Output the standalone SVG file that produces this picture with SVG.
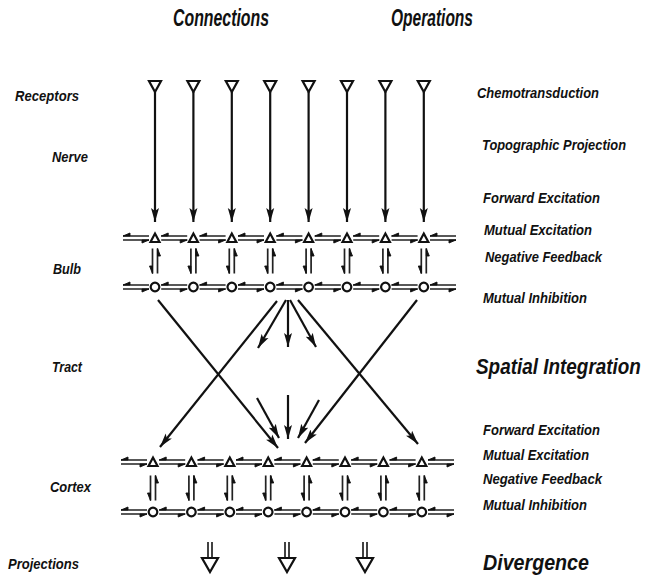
<svg xmlns="http://www.w3.org/2000/svg" width="650" height="578" viewBox="0 0 650 578">
<style>
text{font-family:"Liberation Sans",Arial,sans-serif;font-weight:bold;font-style:italic;fill:#111}
.h{font-size:24px}
.l{font-size:15px}
.b{font-size:22px}
.ln{stroke:#111;stroke-width:2.2;fill:none}
.nd{stroke:#111;stroke-width:2.2;fill:#fff}
.hl{stroke:#222;stroke-width:1.7;fill:none}
.hf{fill:#111;stroke:#111;stroke-width:0.9}
</style>
<defs>
<marker id="ah" markerUnits="userSpaceOnUse" markerWidth="15" markerHeight="9" refX="14" refY="4.5" orient="auto">
<path d="M0,0.5 L14,4.5 L0,8.5 L3,4.5 Z" fill="#111"/>
</marker>
<g id="hp">
<path class="hl" d="M-13,-2 H13 M-13,2 H13"/>
<path class="hf" d="M-13,-2 L-6,-5 L-6,-2 Z M13,2 L6,5 L6,2 Z"/>
</g>
<g id="vp">
<path class="hl" d="M-2.5,-12.5 V12.5 M2.5,-12.5 V12.5"/>
<path class="hf" d="M-2.5,12.5 L-5.5,5 L-2.5,5 Z M2.5,-12.5 L5.5,-5 L2.5,-5 Z"/>
</g>
<path id="tri" class="nd" d="M-4.5,4 L0,-4.5 L4.5,4 Z"/>
<circle id="cir" class="nd" r="4.3"/>
<path id="rec" class="nd" d="M-6,-5 L6,-5 L0,6 Z"/>
<g id="proj">
<path class="hl" d="M-2,-15 V2 M2,-15 V2"/>
<path class="nd" d="M-8,1 L8,1 L0,15 Z"/>
</g>
</defs>

<g id="labels">
<text class="h" x="173" y="26" textLength="96" lengthAdjust="spacingAndGlyphs">Connections</text>
<text class="h" x="391" y="26" textLength="82" lengthAdjust="spacingAndGlyphs">Operations</text>
<text class="l" x="15" y="101" textLength="64" lengthAdjust="spacingAndGlyphs">Receptors</text>
<text class="l" x="52" y="162" textLength="36" lengthAdjust="spacingAndGlyphs">Nerve</text>
<text class="l" x="53" y="274" textLength="28" lengthAdjust="spacingAndGlyphs">Bulb</text>
<text class="l" x="52" y="372" textLength="30" lengthAdjust="spacingAndGlyphs">Tract</text>
<text class="l" x="50" y="492" textLength="41" lengthAdjust="spacingAndGlyphs">Cortex</text>
<text class="l" x="8" y="569" textLength="71" lengthAdjust="spacingAndGlyphs">Projections</text>
<text class="l" x="477" y="98" textLength="122" lengthAdjust="spacingAndGlyphs">Chemotransduction</text>
<text class="l" x="482" y="150" textLength="144" lengthAdjust="spacingAndGlyphs">Topographic Projection</text>
<text class="l" x="483" y="203" textLength="117" lengthAdjust="spacingAndGlyphs">Forward Excitation</text>
<text class="l" x="484" y="235" textLength="108" lengthAdjust="spacingAndGlyphs">Mutual Excitation</text>
<text class="l" x="485" y="262" textLength="117" lengthAdjust="spacingAndGlyphs">Negative Feedback</text>
<text class="l" x="483" y="303" textLength="104" lengthAdjust="spacingAndGlyphs">Mutual Inhibition</text>
<text class="b" transform="translate(476,374) scale(0.86,1)">Spatial Integration</text>
<text class="l" x="483" y="435" textLength="117" lengthAdjust="spacingAndGlyphs">Forward Excitation</text>
<text class="l" x="483" y="460" textLength="106" lengthAdjust="spacingAndGlyphs">Mutual Excitation</text>
<text class="l" x="483" y="484" textLength="119" lengthAdjust="spacingAndGlyphs">Negative Feedback</text>
<text class="l" x="483" y="510" textLength="104" lengthAdjust="spacingAndGlyphs">Mutual Inhibition</text>
<text class="b" x="483" y="570" font-size="23" textLength="106" lengthAdjust="spacingAndGlyphs">Divergence</text>
</g>

<g id="connectors">
<g class="ln" marker-end="url(#ah)">
<path d="M155,92 V222"/><path d="M193.4,92 V222"/><path d="M231.8,92 V222"/><path d="M270.2,92 V222"/>
<path d="M308.6,92 V222"/><path d="M347,92 V222"/><path d="M385.4,92 V222"/><path d="M423.8,92 V222"/>
</g>
<use href="#hp" x="136" y="238"/><use href="#hp" x="174.2" y="238"/><use href="#hp" x="212.6" y="238"/><use href="#hp" x="251" y="238"/>
<use href="#hp" x="289.4" y="238"/><use href="#hp" x="327.8" y="238"/><use href="#hp" x="366.2" y="238"/><use href="#hp" x="404.6" y="238"/><use href="#hp" x="443" y="238"/>
<use href="#hp" x="136" y="287"/><use href="#hp" x="174.2" y="287"/><use href="#hp" x="212.6" y="287"/><use href="#hp" x="251" y="287"/>
<use href="#hp" x="289.4" y="287"/><use href="#hp" x="327.8" y="287"/><use href="#hp" x="366.2" y="287"/><use href="#hp" x="404.6" y="287"/><use href="#hp" x="443" y="287"/>
<use href="#vp" x="155" y="261"/><use href="#vp" x="193.4" y="261"/><use href="#vp" x="231.8" y="261"/><use href="#vp" x="270.2" y="261"/>
<use href="#vp" x="308.6" y="261"/><use href="#vp" x="347" y="261"/><use href="#vp" x="385.4" y="261"/><use href="#vp" x="423.8" y="261"/>
<g class="ln" marker-end="url(#ah)">
<path d="M158,300 L278,448"/>
<path d="M277,301 L160,447"/>
<path d="M298,300 L418,444"/>
<path d="M417,300 L305,443"/>
<path d="M286,300 L258,348"/>
<path d="M288,300 L288,347"/>
<path d="M290,300 L316,347"/>
<path d="M257,398 L279,438"/>
<path d="M288,395 L288,439"/>
<path d="M319,400 L298,438"/>
</g>
<use href="#hp" x="134" y="462"/><use href="#hp" x="172.2" y="462"/><use href="#hp" x="210.6" y="462"/><use href="#hp" x="249" y="462"/>
<use href="#hp" x="287.4" y="462"/><use href="#hp" x="325.8" y="462"/><use href="#hp" x="364.2" y="462"/><use href="#hp" x="402.6" y="462"/><use href="#hp" x="441" y="462"/>
<use href="#hp" x="134" y="512"/><use href="#hp" x="172.2" y="512"/><use href="#hp" x="210.6" y="512"/><use href="#hp" x="249" y="512"/>
<use href="#hp" x="287.4" y="512"/><use href="#hp" x="325.8" y="512"/><use href="#hp" x="364.2" y="512"/><use href="#hp" x="402.6" y="512"/><use href="#hp" x="441" y="512"/>
<use href="#vp" x="153" y="488"/><use href="#vp" x="191.4" y="488"/><use href="#vp" x="229.8" y="488"/><use href="#vp" x="268.2" y="488"/>
<use href="#vp" x="306.6" y="488"/><use href="#vp" x="345" y="488"/><use href="#vp" x="383.4" y="488"/><use href="#vp" x="421.8" y="488"/>
<use href="#proj" x="210" y="557"/><use href="#proj" x="287" y="557"/><use href="#proj" x="365" y="557"/>
</g>

<g id="receptors">
<use href="#rec" x="155" y="86"/><use href="#rec" x="193.4" y="86"/><use href="#rec" x="231.8" y="86"/><use href="#rec" x="270.2" y="86"/>
<use href="#rec" x="308.6" y="86"/><use href="#rec" x="347" y="86"/><use href="#rec" x="385.4" y="86"/><use href="#rec" x="423.8" y="86"/>
</g>
<g id="bulb-mitral">
<use href="#tri" x="155" y="238"/><use href="#tri" x="193.4" y="238"/><use href="#tri" x="231.8" y="238"/><use href="#tri" x="270.2" y="238"/>
<use href="#tri" x="308.6" y="238"/><use href="#tri" x="347" y="238"/><use href="#tri" x="385.4" y="238"/><use href="#tri" x="423.8" y="238"/>
</g>
<g id="bulb-granule">
<use href="#cir" x="155" y="287"/><use href="#cir" x="193.4" y="287"/><use href="#cir" x="231.8" y="287"/><use href="#cir" x="270.2" y="287"/>
<use href="#cir" x="308.6" y="287"/><use href="#cir" x="347" y="287"/><use href="#cir" x="385.4" y="287"/><use href="#cir" x="423.8" y="287"/>
</g>
<g id="cortex-pyramidal">
<use href="#tri" x="153" y="462"/><use href="#tri" x="191.4" y="462"/><use href="#tri" x="229.8" y="462"/><use href="#tri" x="268.2" y="462"/>
<use href="#tri" x="306.6" y="462"/><use href="#tri" x="345" y="462"/><use href="#tri" x="383.4" y="462"/><use href="#tri" x="421.8" y="462"/>
</g>
<g id="cortex-inhibitory">
<use href="#cir" x="153" y="512"/><use href="#cir" x="191.4" y="512"/><use href="#cir" x="229.8" y="512"/><use href="#cir" x="268.2" y="512"/>
<use href="#cir" x="306.6" y="512"/><use href="#cir" x="345" y="512"/><use href="#cir" x="383.4" y="512"/><use href="#cir" x="421.8" y="512"/>
</g>
</svg>
